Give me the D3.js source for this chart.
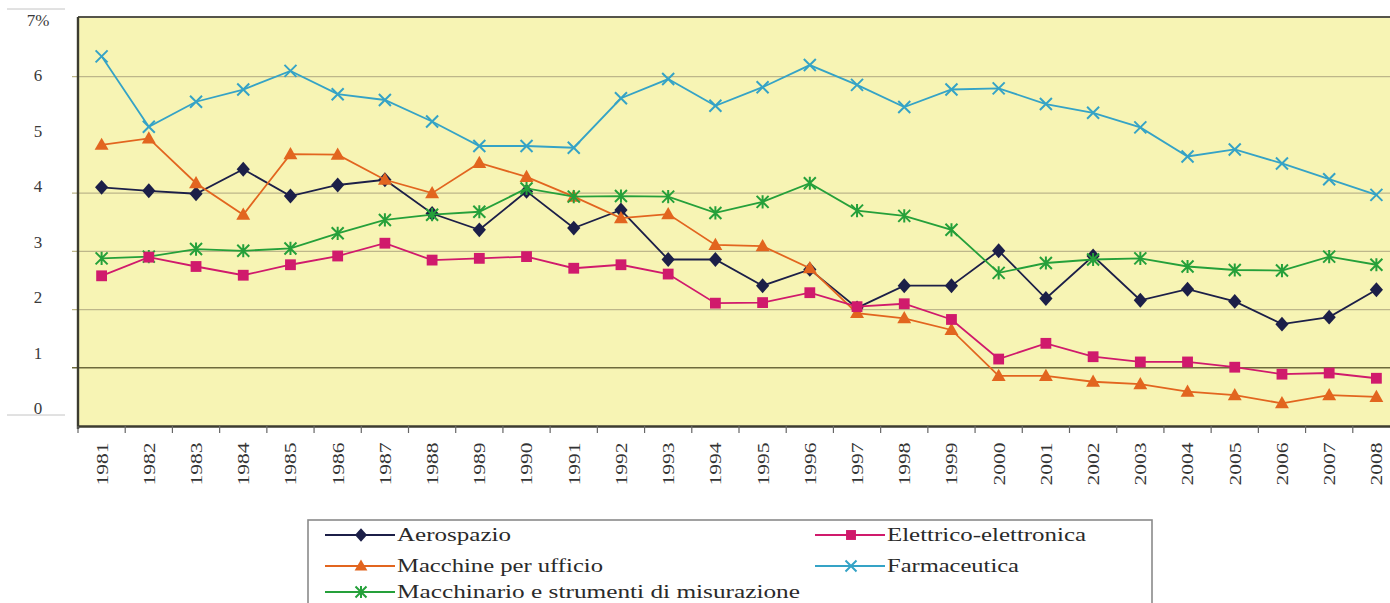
<!DOCTYPE html>
<html>
<head>
<meta charset="utf-8">
<script src="https://cdn.jsdelivr.net/npm/d3@7"></script>
<style>
  html, body { margin: 0; padding: 0; background: #ffffff; }
  svg { display: block; }
</style>
</head>
<body>
<svg id="chart" width="1390" height="603"></svg>
<script>
// R&S / fatturato per settore, 1981-2008 (%)
const years = [1981,1982,1983,1984,1985,1986,1987,1988,1989,1990,1991,1992,1993,1994,
               1995,1996,1997,1998,1999,2000,2001,2002,2003,2004,2005,2006,2007,2008];

const aerospazio = [4.10,4.04,3.99,4.41,3.95,4.14,4.23,3.65,3.37,4.03,3.40,3.71,2.86,2.86,
                    2.41,2.69,2.03,2.41,2.41,3.01,2.19,2.92,2.16,2.35,2.14,1.75,1.87,2.34];
const macchineUfficio = [4.83,4.94,4.17,3.63,4.67,4.66,4.23,4.00,4.52,4.28,3.94,3.57,3.64,3.11,
                         3.09,2.71,1.94,1.85,1.65,0.86,0.86,0.76,0.72,0.59,0.53,0.39,0.53,0.50];
const macchinario = [2.88,2.91,3.04,3.01,3.05,3.31,3.54,3.63,3.68,4.08,3.94,3.95,3.94,3.66,
                     3.85,4.17,3.70,3.61,3.37,2.63,2.80,2.86,2.88,2.74,2.68,2.67,2.91,2.77];
const elettrico = [2.58,2.90,2.74,2.59,2.77,2.92,3.14,2.85,2.88,2.91,2.71,2.77,2.61,2.11,
                   2.12,2.29,2.05,2.10,1.83,1.15,1.42,1.19,1.10,1.10,1.01,0.89,0.91,0.82];
const farmaceutica = [6.35,5.14,5.57,5.78,6.10,5.70,5.60,5.23,4.81,4.81,4.78,5.63,5.96,5.50,
                      5.82,6.20,5.86,5.48,5.78,5.80,5.53,5.38,5.13,4.63,4.75,4.51,4.24,3.97];

const seriesNames = ["Aerospazio", "Macchine per ufficio", "Macchinario e strumenti di misurazione",
                     "Elettrico-elettronica", "Farmaceutica"];
const yTickValues = [0,1,2,3,4,5,6,7];
const yTickLabels = ["0","1","2","3","4","5","6","7%"];

const series = [
  { name: seriesNames[0], values: aerospazio,      color: "#1c1f48", marker: "diamond" },
  { name: seriesNames[1], values: macchineUfficio, color: "#e2651f", marker: "triangle" },
  { name: seriesNames[2], values: macchinario,     color: "#25a03a", marker: "asterisk" },
  { name: seriesNames[3], values: elettrico,       color: "#d01a6c", marker: "square" },
  { name: seriesNames[4], values: farmaceutica,    color: "#35a3c6", marker: "cross" }
];

const svg = d3.select("#chart");
const plot = { left: 78, top: 17, right: 1400, bottom: 426 };

const x = d3.scaleBand().domain(years).range([plot.left, plot.right]);
const y = d3.scaleLinear().domain([0, 7]).range([plot.bottom, 18.5]);
// tick labels sit on their own slightly compressed scale
const yLabel = d3.scaleLinear().domain([0, 7]).range([408, 20]);

// plot background
svg.append("rect")
  .attr("x", plot.left).attr("y", plot.top)
  .attr("width", plot.right - plot.left).attr("height", plot.bottom - plot.top)
  .attr("fill", "#f7f4b4");

// gridlines
svg.append("g").selectAll("line")
  .data([1,2,3,4,6])
  .join("line")
  .attr("x1", plot.left - 6).attr("x2", plot.right)
  .attr("y1", d => y(d)).attr("y2", d => y(d))
  .attr("stroke", d => d === 1 ? "#6e6a3c" : "#bdb68a")
  .attr("stroke-width", d => d === 1 ? 1.6 : 1.2);

// frame
svg.append("line")
  .attr("x1", plot.left).attr("x2", plot.right)
  .attr("y1", plot.top).attr("y2", plot.top)
  .attr("stroke", "#55554a").attr("stroke-width", 2);
svg.append("line")
  .attr("x1", plot.left).attr("x2", plot.left)
  .attr("y1", plot.top).attr("y2", plot.bottom + 3)
  .attr("stroke", "#3c3c30").attr("stroke-width", 2.4);

// x axis
const xAxis = d3.axisBottom(x).tickSize(0).tickPadding(0);
const gx = svg.append("g").attr("transform", `translate(0,${plot.bottom})`).call(xAxis);
gx.select(".domain").attr("stroke", "#3c3c30").attr("stroke-width", 2.4);
gx.selectAll(".tick text")
  .attr("transform", "translate(0,38) rotate(-90)")
  .attr("text-anchor", "middle")
  .attr("dy", "0.35em")
  .attr("font-family", "'Liberation Serif', 'DejaVu Serif', serif")
  .attr("font-size", 17)
  .attr("fill", "#333")
  .attr("textLength", 43)
  .attr("lengthAdjust", "spacingAndGlyphs");
// category boundary ticks
svg.append("g").selectAll("line")
  .data(years)
  .join("line")
  .attr("x1", d => x(d)).attr("x2", d => x(d))
  .attr("y1", plot.bottom).attr("y2", plot.bottom + 7)
  .attr("stroke", "#666").attr("stroke-width", 1.2);

// y axis labels
const yAxis = d3.axisLeft(yLabel).tickValues(yTickValues)
  .tickFormat((d, i) => yTickLabels[i]).tickSize(0).tickPadding(0);
const gy = svg.append("g").attr("transform", "translate(44,0)").call(yAxis);
gy.select(".domain").remove();
gy.selectAll(".tick text")
  .attr("text-anchor", "middle")
  .attr("x", -6)
  .attr("font-family", "'Liberation Serif', 'DejaVu Serif', serif")
  .attr("font-size", 17)
  .attr("fill", "#3a3a3a");

// faint rules beside the value labels
svg.append("g").selectAll("line")
  .data([9, 415])
  .join("line")
  .attr("x1", 7).attr("x2", 65)
  .attr("y1", d => d).attr("y2", d => d)
  .attr("stroke", "#c4c4c4").attr("stroke-width", 1);

// marker drawing
function drawMarker(g, type, color, s) {
  if (type === "diamond") {
    g.append("path").attr("d", `M0,${-s*0.62}L${s*0.55},0L0,${s*0.62}L${-s*0.55},0Z`).attr("fill", color);
  } else if (type === "square") {
    g.append("rect").attr("x", -s*0.45).attr("y", -s*0.45).attr("width", s*0.9).attr("height", s*0.9).attr("fill", color);
  } else if (type === "triangle") {
    g.append("path").attr("d", `M0,${-s*0.6}L${s*0.58},${s*0.42}L${-s*0.58},${s*0.42}Z`).attr("fill", color);
  } else if (type === "cross") {
    const h = s*0.5;
    g.append("path").attr("d", `M${-h},${-h}L${h},${h}M${-h},${h}L${h},${-h}`)
      .attr("stroke", color).attr("stroke-width", 2).attr("fill", "none");
  } else if (type === "asterisk") {
    const h = s*0.5;
    g.append("path").attr("d", `M${-h},${-h}L${h},${h}M${-h},${h}L${h},${-h}M0,${-h*1.1}L0,${h*1.1}`)
      .attr("stroke", color).attr("stroke-width", 2).attr("fill", "none");
  }
}

// series lines and markers
const line = d3.line().x((d, i) => x(years[i]) + x.bandwidth() / 2).y(d => y(d));
series.forEach(s => {
  const g = svg.append("g");
  g.append("path")
    .datum(s.values)
    .attr("d", line)
    .attr("fill", "none")
    .attr("stroke", s.color)
    .attr("stroke-width", 1.8);
  s.values.forEach((v, i) => {
    const m = g.append("g").attr("transform", `translate(${x(years[i]) + x.bandwidth() / 2},${y(v)})`);
    drawMarker(m, s.marker, s.color, 12);
  });
});

// legend
const legend = svg.append("g");
legend.append("rect")
  .attr("x", 308).attr("y", 520).attr("width", 844).attr("height", 100)
  .attr("fill", "#ffffff").attr("stroke", "#8a8a8a").attr("stroke-width", 1.6);

const legendPos = [
  { x: 325, y: 535, w: 114 },
  { x: 325, y: 566, w: 206 },
  { x: 325, y: 592, w: 403 },
  { x: 815, y: 535, w: 199 },
  { x: 815, y: 566, w: 132 }
];
series.forEach((s, i) => {
  const p = legendPos[i];
  const g = legend.append("g").attr("transform", `translate(${p.x},${p.y})`);
  g.append("line").attr("x1", 0).attr("x2", 70).attr("y1", 0).attr("y2", 0)
    .attr("stroke", s.color).attr("stroke-width", 1.8);
  drawMarker(g.append("g").attr("transform", "translate(36,0)"), s.marker, s.color, 11);
  g.append("text")
    .attr("x", 72).attr("y", 0).attr("dy", "0.33em")
    .attr("font-family", "'Liberation Serif', 'DejaVu Serif', serif")
    .attr("font-size", 18)
    .attr("fill", "#2a2a2a")
    .attr("textLength", p.w)
    .attr("lengthAdjust", "spacingAndGlyphs")
    .text(s.name);
});
</script>
</body>
</html>
